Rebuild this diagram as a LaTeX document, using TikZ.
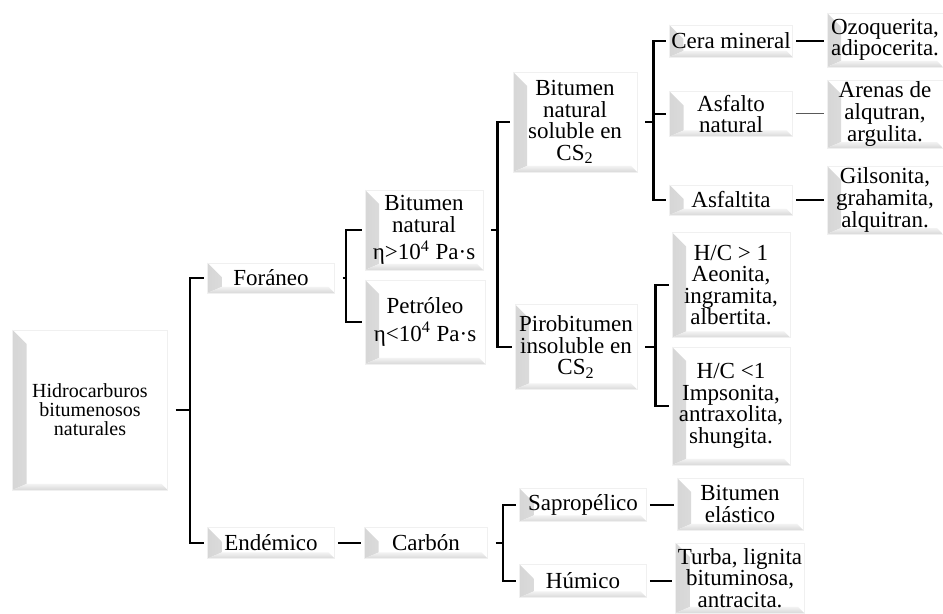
\documentclass[tikz,border=0pt]{standalone}
\usepackage{fontspec}
\setmainfont{Liberation Serif}
\tikzset{
  box/.style={rectangle, draw=gray!12, fill=white, align=center, inner sep=1pt,
    font=\fontsize{11.5}{10.8}\selectfont,
    path picture={
      \shade[left color=gray!32, right color=white]
        (path picture bounding box.north west) -- (path picture bounding box.south west)
        -- ([shift={(7pt,3pt)}]path picture bounding box.south west)
        -- ([shift={(7pt,-7pt)}]path picture bounding box.north west) -- cycle;
      \shade[top color=gray!10, bottom color=gray!30]
        (path picture bounding box.south west) -- (path picture bounding box.south east)
        -- ([shift={(-3pt,3pt)}]path picture bounding box.south east)
        -- ([shift={(7pt,3pt)}]path picture bounding box.south west) -- cycle;
    }},
  link/.style={line width=1.2pt, shorten <=4pt, shorten >=1.5pt},
  rule/.style={line width=1.1pt, shorten <=1.5pt, shorten >=1.5pt}
}
\begin{document}
\begin{tikzpicture}[x=0.5pt,y=-0.5pt]
  \useasboundingbox (0,0) rectangle (943,614);
  \node[box, minimum width=77.5pt, minimum height=80pt, font=\fontsize{10}{9.5}\selectfont] (r) at (90,410) {Hidrocarburos\\bitumenosos\\naturales};
  \node[box, minimum width=63.5pt, minimum height=15pt] (rf) at (271,278) {Foráneo};
  \node[box, minimum width=63.5pt, minimum height=15.5pt] (re) at (271,543) {Endémico};
  \node[box, minimum width=61.5pt, minimum height=15.5pt] (rec) at (426,543) {Carbón};
  \node[box, minimum width=59pt, minimum height=40pt] (rfb) at (424,230) {Bitumen\\natural\\[3pt]η>10\textsuperscript{4} Pa·s};
  \node[box, minimum width=60pt, minimum height=42pt] (rfp) at (425,322) {Petróleo\\[3pt]η<10\textsuperscript{4} Pa·s};
  \node[box, minimum width=62pt, minimum height=50pt] (rfbs) at (575,122) {Bitumen\\natural\\soluble en\\CS\textsubscript{2}};
  \node[box, minimum width=61pt, minimum height=42.5pt] (rfbi) at (576,347) {Pirobitumen\\insoluble en\\CS\textsubscript{2}};
  \node[box, minimum width=61.5pt, minimum height=16pt] (rfbsc) at (731,41) {Cera mineral};
  \node[box, minimum width=61.5pt, minimum height=22.5pt] (rfbsa) at (731,114) {Asfalto\\natural};
  \node[box, minimum width=61.5pt, minimum height=15pt] (rfbst) at (731,200) {Asfaltita};
  \node[box, minimum width=58pt, minimum height=27pt] (rfbscm) at (885,40) {Ozoquerita,\\adipocerita.};
  \node[box, minimum width=58pt, minimum height=32.5pt] (rfbsam) at (885,114) {Arenas de\\alqutran,\\argulita.};
  \node[box, minimum width=58pt, minimum height=32.5pt] (rfbstm) at (885,200) {Gilsonita,\\grahamita,\\alquitran.};
  \node[box, minimum width=59pt, minimum height=52.5pt] (rfbim) at (731,285) {H/C > 1\\Aeonita,\\ingramita,\\albertita.};
  \node[box, minimum width=59pt, minimum height=59pt] (rfbin) at (731,406) {H/C <1\\Impsonita,\\antraxolita,\\shungita.};
  \node[box, minimum width=63.5pt, minimum height=16.5pt] (recs) at (583,505) {Sapropélico};
  \node[box, minimum width=63.5pt, minimum height=16.5pt] (rech) at (583,581) {Húmico};
  \node[box, minimum width=63pt, minimum height=26pt] (recsm) at (740,504) {Bitumen\\elástico};
  \node[box, minimum width=63pt, minimum height=35pt] (rechm) at (740,578) {Turba, lignita\\bituminosa,\\antracita.};

  \draw[link] (r.east) -- ++(22,0) |- (rf.west);
  \draw[link] (r.east) -- ++(22,0) |- (re.west);
  \draw[link] (rf.east) -- ++(11,0) |- (rfb.west);
  \draw[link] (rf.east) -- ++(11,0) |- (rfp.west);
  \draw[link] (rfb.east) -- ++(14,0) |- (rfbs.west);
  \draw[link] (rfb.east) -- ++(14,0) |- (rfbi.west);
  \draw[link] (rfbs.east) -- ++(16,0) |- (rfbsc.west);
  \draw[link] (rfbs.east) -- ++(16,0) |- (rfbsa.west);
  \draw[link] (rfbs.east) -- ++(16,0) |- (rfbst.west);
  \draw[link] (rfbi.east) -- ++(18,0) |- (rfbim.west);
  \draw[link] (rfbi.east) -- ++(18,0) |- (rfbin.west);
  \draw[link] (rec.east) -- ++(15,0) |- (recs.west);
  \draw[link] (rec.east) -- ++(15,0) |- (rech.west);
  \draw[rule] (re.east) -- (re.east -| rec.west);
  \draw[rule] (rfbsc.east) -- (rfbsc.east -| rfbscm.west);
  \draw[rule, line width=0.5pt, gray!70!black] (rfbsa.east) -- (rfbsa.east -| rfbsam.west);
  \draw[rule] (rfbst.east) -- (rfbst.east -| rfbstm.west);
  \draw[rule] (recs.east) -- (recs.east -| recsm.west);
  \draw[rule] (rech.east) -- (rech.east -| rechm.west);
\end{tikzpicture}
\end{document}
